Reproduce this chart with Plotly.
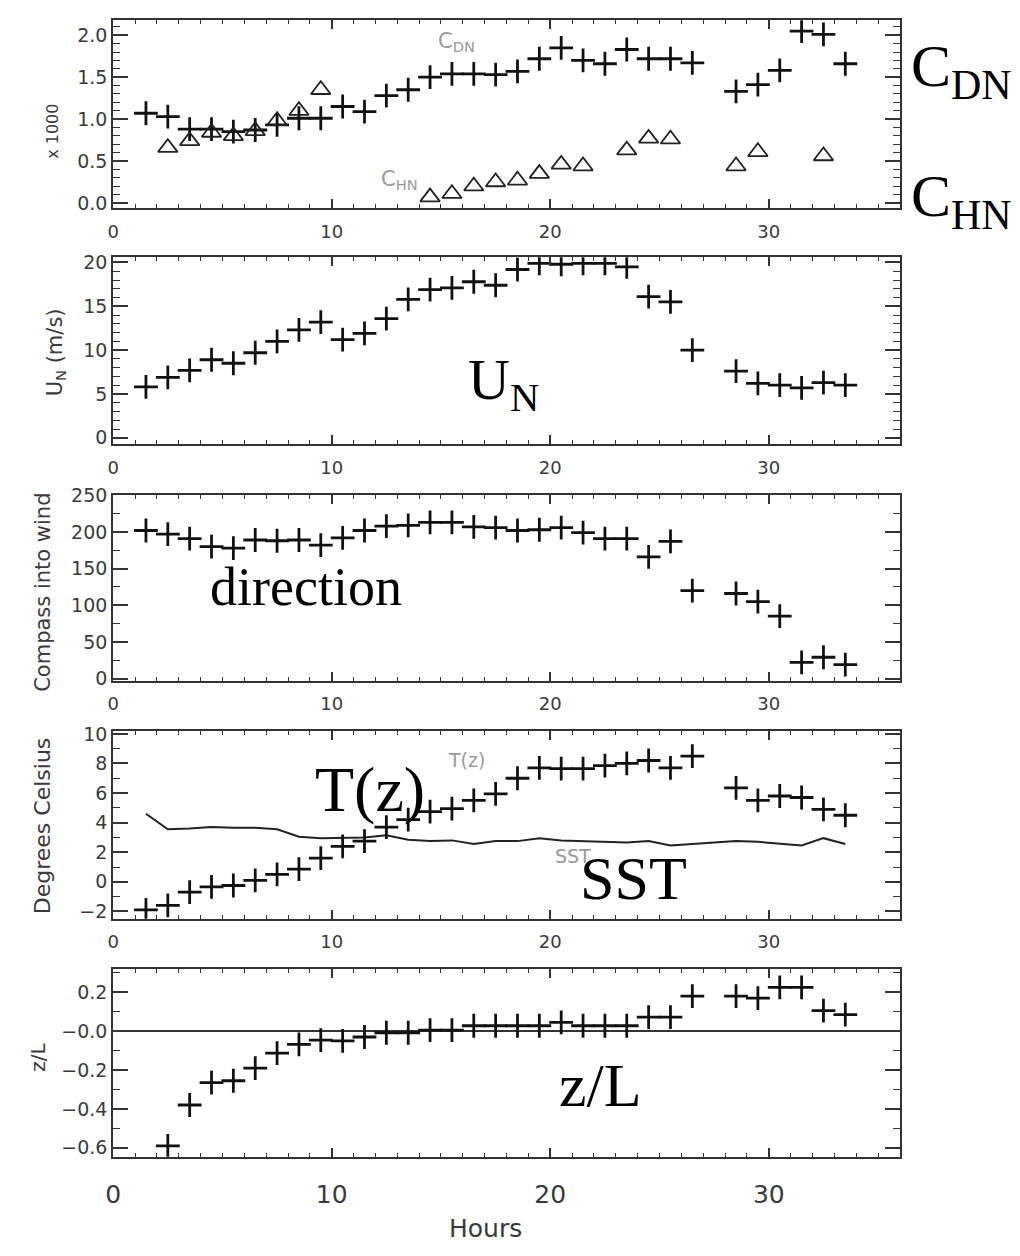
import plotly.graph_objects as go

# ---------------- data ----------------
hours_main = [1.5, 2.5, 3.5, 4.5, 5.5, 6.5, 7.5, 8.5, 9.5, 10.5, 11.5, 12.5, 13.5,
              14.5, 15.5, 16.5, 17.5, 18.5, 19.5, 20.5, 21.5, 22.5, 23.5, 24.5,
              25.5, 26.5, 28.5, 29.5, 30.5, 31.5, 32.5, 33.5]
cdn = [1.07, 1.03, 0.88, 0.88, 0.85, 0.87, 0.93, 1.01, 1.01, 1.15, 1.09, 1.28, 1.35,
       1.50, 1.54, 1.54, 1.53, 1.57, 1.72, 1.85, 1.70, 1.66, 1.83, 1.72, 1.72, 1.67,
       1.33, 1.41, 1.58, 2.05, 2.01, 1.66]

hours_chn = [2.5, 3.5, 4.5, 5.5, 6.5, 7.5, 8.5, 9.5, 14.5, 15.5, 16.5, 17.5, 18.5,
             19.5, 20.5, 21.5, 23.5, 24.5, 25.5, 28.5, 29.5, 32.5]
chn = [0.66, 0.74, 0.84, 0.80, 0.86, 0.98, 1.10, 1.35, 0.07, 0.11, 0.20, 0.25, 0.27,
       0.35, 0.46, 0.44, 0.63, 0.77, 0.76, 0.44, 0.61, 0.56]

un = [5.8, 6.9, 7.7, 8.9, 8.5, 9.7, 11.0, 12.3, 13.2, 11.2, 11.9, 13.6, 15.8, 16.9,
      17.1, 17.8, 17.4, 19.2, 19.9, 19.8, 19.9, 19.9, 19.5, 16.1, 15.5, 10.0,
      7.6, 6.2, 6.0, 5.7, 6.3, 6.0]

direction = [202, 197, 191, 180, 178, 189, 188, 189, 182, 192, 202, 208, 209, 213,
             213, 207, 206, 202, 203, 206, 199, 191, 191, 166, 187, 120,
             116, 105, 85, 22, 29, 19]

tz = [-1.9, -1.6, -0.7, -0.35, -0.25, 0.1, 0.5, 0.85, 1.6, 2.4, 2.75, 3.7, 4.2, 4.75,
      4.95, 5.5, 5.95, 7.0, 7.7, 7.65, 7.65, 7.85, 8.0, 8.2, 7.7, 8.5,
      6.35, 5.5, 5.8, 5.7, 4.9, 4.5]

hours_sst = [1.5, 2.5, 3.5, 4.5, 5.5, 6.5, 7.5, 8.5, 9.5, 10.5, 11.5, 12.5, 13.5,
             14.5, 15.5, 16.5, 17.5, 18.5, 19.5, 20.5, 21.5, 22.5, 23.5, 24.5,
             25.5, 26.5, 27.5, 28.5, 29.5, 30.5, 31.5, 32.5, 33.5]
sst = [4.6, 3.55, 3.6, 3.7, 3.65, 3.65, 3.55, 3.05, 2.95, 2.95, 3.0, 3.15, 2.85,
       2.75, 2.8, 2.55, 2.75, 2.75, 2.95, 2.8, 2.75, 2.65, 2.65, 2.75, 2.45, 2.55,
       2.65, 2.75, 2.7, 2.6, 2.45, 2.95, 2.55]

hours_zl = [2.5, 3.5, 4.5, 5.5, 6.5, 7.5, 8.5, 9.5, 10.5, 11.5, 12.5, 13.5, 14.5,
            15.5, 16.5, 17.5, 18.5, 19.5, 20.5, 21.5, 22.5, 23.5, 24.5, 25.5, 26.5,
            28.5, 29.5, 30.5, 31.5, 32.5, 33.5]
zl = [-0.59, -0.38, -0.265, -0.255, -0.19, -0.113, -0.068, -0.046, -0.05, -0.03,
      -0.008, -0.008, 0.005, 0.005, 0.028, 0.028, 0.028, 0.028, 0.045, 0.028, 0.028,
      0.028, 0.072, 0.072, 0.18, 0.18, 0.17, 0.225, 0.225, 0.106, 0.085]

x_ticks = [0, 10, 20, 30]
zl_ticks = [-0.6, -0.4, -0.2, 0.0, 0.2]
zl_labels = ["\u22120.6", "\u22120.4", "\u22120.2", "\u22120.0", "0.2"]

# ---------------- layout helpers ----------------
W, H = 1020, 1256
def fx(px):
    return px / W
def fy(py):
    return 1 - py / H

AX = "#333333"
TXT = "#3a3a3a"
SANS = "DejaVu Sans"
SERIF = "Liberation Serif"

plus = dict(symbol="cross-thin", size=17, color="#111111",
            line=dict(width=2.8, color="#111111"))
tri = dict(symbol="triangle-up-open", size=17, color="#222222",
           line=dict(width=1.8, color="#222222"))

fig = go.Figure()
fig.add_trace(go.Scatter(x=hours_main, y=cdn, mode="markers", marker=plus,
                         xaxis="x", yaxis="y", showlegend=False))
fig.add_trace(go.Scatter(x=hours_chn, y=chn, mode="markers", marker=tri,
                         xaxis="x", yaxis="y", showlegend=False))
fig.add_trace(go.Scatter(x=hours_main, y=un, mode="markers", marker=plus,
                         xaxis="x2", yaxis="y2", showlegend=False))
fig.add_trace(go.Scatter(x=hours_main, y=direction, mode="markers", marker=plus,
                         xaxis="x3", yaxis="y3", showlegend=False))
fig.add_trace(go.Scatter(x=hours_sst, y=sst, mode="lines",
                         line=dict(color="#222222", width=2),
                         xaxis="x4", yaxis="y4", showlegend=False))
fig.add_trace(go.Scatter(x=hours_main, y=tz, mode="markers", marker=plus,
                         xaxis="x4", yaxis="y4", showlegend=False))
fig.add_trace(go.Scatter(x=hours_zl, y=zl, mode="markers", marker=plus,
                         xaxis="x5", yaxis="y5", showlegend=False))

panels = [  # (top px, bottom px, y range, major dtick, minor dtick)
    (9.3, 200, [-0.06, 2.18], 0.5, 0.1),
    (250, 440, [-0.75, 20.6], 5, 1),
    (491, 680, [-3, 251], 50, 25),
    (731, 921.7, [-2.5, 10.2], 2, 1),
    (972.7, 1163.3, [-0.646, 0.32], 0.2, 0.1),
]

layout = dict(width=W, height=H, margin=dict(l=0, r=0, t=0, b=0),
              paper_bgcolor="white", plot_bgcolor="white")

for i, (top, bot, yr, dt, mdt) in enumerate(panels):
    n = "" if i == 0 else str(i + 1)
    last = (i == 4)
    layout["xaxis" + n] = dict(
        domain=[fx(106), fx(899)], range=[0, 36], anchor="y" + n,
        tickvals=x_ticks, ticks="inside", ticklen=9, tickwidth=1.6, tickcolor=AX,
        minor=dict(dtick=1, ticks="inside", ticklen=4, tickwidth=1.4, tickcolor=AX),
        showline=True, linecolor=AX, linewidth=2, mirror="ticks",
        showgrid=False, zeroline=False,
        ticklabelstandoff=(14 if last else 6),
        tickfont=dict(family=SANS, size=(25 if last else 18), color=TXT),
    )
    ydict = dict(
        domain=[fy(bot), fy(top)], range=yr, anchor="x" + n,
        ticks="inside", ticklen=15, tickwidth=1.6, tickcolor=AX,
        minor=dict(dtick=mdt, ticks="inside", ticklen=7, tickwidth=1.4, tickcolor=AX),
        showline=True, linecolor=AX, linewidth=2, mirror="ticks",
        showgrid=False, zeroline=False,
        tickfont=dict(family=SANS, size=19, color=TXT),
    )
    if i == 0:
        ydict.update(tickvals=[0, 0.5, 1.0, 1.5, 2.0],
                     ticktext=["0.0", "0.5", "1.0", "1.5", "2.0"])
    elif i == 4:
        ydict.update(tickvals=zl_ticks, ticktext=zl_labels,
                     zeroline=True, zerolinecolor=AX, zerolinewidth=1.6)
    else:
        ydict.update(dtick=dt, tick0=0)
    layout["yaxis" + n] = ydict

fig.update_layout(**layout)

ann = []
def add(text, x, y, size, family, color, xanchor="center", yanchor="middle", angle=0):
    ann.append(dict(text=text, x=fx(x), y=fy(y), xref="paper", yref="paper",
                    showarrow=False, xanchor=xanchor, yanchor=yanchor,
                    textangle=angle, font=dict(size=size, family=family, color=color)))

# axis titles
add("x 1000", 44, 122, 16, SANS, TXT, angle=-90)
add("U<sub>N</sub> (m/s)", 48, 347, 21, SANS, TXT, angle=-90)
add("Compass into wind", 35, 590, 21, SANS, TXT, angle=-90)
add("Degrees Celsius", 35, 827, 22, SANS, TXT, angle=-90)
add("z/L", 30, 1062, 20, SANS, TXT, angle=-90)
add("Hours", 481, 1236, 25, SANS, TXT)

# small grey labels
add("C<sub>DN</sub>", 452, 31, 21, SANS, "#9a9a9a")
add("C<sub>HN</sub>", 395, 172, 21, SANS, "#9a9a9a")
add("T(z)", 462, 761, 19, SANS, "#9a9a9a")
add("SST", 569, 858, 19, SANS, "#9a9a9a")

# big serif labels
add("C<sub>DN</sub>", 908, 60, 60, SERIF, "#000000", xanchor="left")
add("C<sub>HN</sub>", 908, 192, 60, SERIF, "#000000", xanchor="left")
add("U<sub>N</sub>", 462, 378, 58, SERIF, "#000000", xanchor="left")
add("direction", 300, 585, 54, SERIF, "#000000")
add("T(z)", 365, 790, 64, SERIF, "#000000")
add("SST", 630, 880, 62, SERIF, "#000000")
add("z/L", 597, 1090, 62, SERIF, "#000000")

fig.update_layout(annotations=ann)
fig.write_html("out.html",
               post_script="document.body.style.margin='0';document.body.style.overflow='hidden';")
